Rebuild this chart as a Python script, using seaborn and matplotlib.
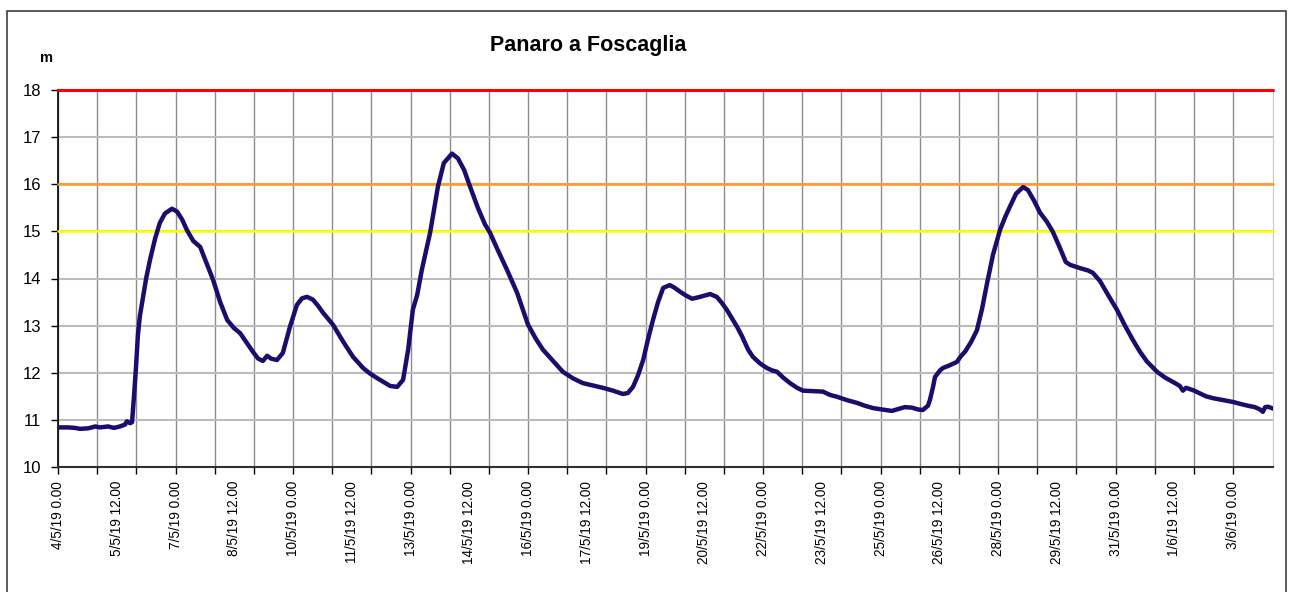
import pandas as pd
import seaborn as sns
import matplotlib.pyplot as plt
import matplotlib.patches as mpatches

# Water level readings (days since 4/5/19 0:00, level in m)
day_offset = [
    0.00, 0.26, 0.43, 0.56, 0.77, 0.95, 1.07, 1.28, 1.43, 1.58, 1.71, 1.76, 1.84, 1.89,
    1.94, 1.99, 2.04, 2.09, 2.17, 2.25, 2.35, 2.48, 2.60, 2.73, 2.91, 3.04, 3.17, 3.29,
    3.45, 3.63, 3.78, 3.96, 4.14, 4.32, 4.49, 4.65, 4.83, 4.98, 5.11, 5.23, 5.34, 5.44,
    5.59, 5.74, 5.92, 6.10, 6.23, 6.36, 6.51, 6.64, 6.77, 7.02, 7.28, 7.53, 7.79, 7.97,
    8.14, 8.32, 8.48, 8.66, 8.81, 8.94, 9.06, 9.17, 9.29, 9.50, 9.70, 9.85, 10.06, 10.21,
    10.37, 10.52, 10.72, 10.90, 11.03, 11.23, 11.46, 11.72, 12.00, 12.20, 12.38, 12.64,
    12.89, 13.15, 13.40, 13.66, 13.91, 14.17, 14.42, 14.55, 14.68, 14.81, 14.94, 15.06,
    15.19, 15.32, 15.45, 15.62, 15.75, 15.88, 16.03, 16.19, 16.39, 16.65, 16.82, 16.95,
    17.08, 17.21, 17.34, 17.46, 17.62, 17.74, 17.92, 18.10, 18.23, 18.36, 18.51, 18.69,
    18.87, 19.02, 19.28, 19.53, 19.71, 19.89, 20.14, 20.40, 20.60, 20.81, 21.04, 21.29,
    21.45, 21.62, 21.80, 21.96, 22.08, 22.21, 22.26, 22.34, 22.39, 22.52, 22.59, 22.77,
    22.95, 23.05, 23.16, 23.31, 23.46, 23.59, 23.72, 23.87, 24.05, 24.18, 24.30, 24.46,
    24.64, 24.76, 24.92, 25.07, 25.25, 25.40, 25.58, 25.73, 25.84, 26.09, 26.30, 26.42,
    26.60, 26.81, 27.04, 27.24, 27.44, 27.62, 27.80, 28.06, 28.26, 28.52, 28.64, 28.72,
    28.80, 28.98, 29.16, 29.31, 29.49, 29.62, 29.74, 29.87, 30.00, 30.18, 30.38, 30.56,
    30.69, 30.76, 30.82, 30.89, 31.02,
]
level_m = [
    10.84, 10.84, 10.83, 10.81, 10.82, 10.86, 10.84, 10.86, 10.83, 10.86, 10.90, 10.97, 10.93, 10.95,
    11.50, 12.10, 12.80, 13.20, 13.60, 14.00, 14.40, 14.85, 15.18, 15.38, 15.48, 15.42, 15.25, 15.03,
    14.80, 14.67, 14.35, 13.97, 13.50, 13.12, 12.95, 12.84, 12.62, 12.44, 12.30, 12.25, 12.36, 12.30,
    12.27, 12.42, 12.97, 13.44, 13.58, 13.61, 13.55, 13.42, 13.27, 13.02, 12.66, 12.34, 12.10, 11.98,
    11.89, 11.80, 11.72, 11.70, 11.85, 12.49, 13.34, 13.65, 14.19, 14.97, 15.95, 16.45, 16.65, 16.55,
    16.30, 15.95, 15.50, 15.15, 14.97, 14.60, 14.19, 13.70, 13.02, 12.72, 12.49, 12.25,
    12.02, 11.88, 11.78, 11.73, 11.68, 11.62, 11.55, 11.57, 11.70, 11.95, 12.27, 12.70,
    13.12, 13.50, 13.80, 13.86, 13.80, 13.72, 13.64, 13.57, 13.61, 13.67, 13.61, 13.48,
    13.33, 13.15, 12.97, 12.78, 12.49, 12.34, 12.20, 12.10, 12.05, 12.02, 11.90, 11.78,
    11.68, 11.62, 11.61, 11.60, 11.53, 11.49, 11.42, 11.36, 11.30, 11.25, 11.22, 11.19,
    11.23, 11.27, 11.26, 11.22, 11.21, 11.30, 11.42, 11.70, 11.91, 12.05, 12.10, 12.16,
    12.23, 12.35, 12.45, 12.65, 12.90, 13.35, 13.90, 14.50, 15.03, 15.30, 15.52, 15.80,
    15.94, 15.88, 15.65, 15.40, 15.20, 14.99, 14.65, 14.35, 14.29, 14.22, 14.17, 14.12,
    13.95, 13.65, 13.33, 13.00, 12.70, 12.45, 12.24, 12.02, 11.90, 11.78, 11.72, 11.62,
    11.68, 11.63, 11.56, 11.50, 11.46, 11.44, 11.42, 11.40, 11.38, 11.34, 11.30, 11.27,
    11.22, 11.17, 11.27, 11.28, 11.24,
]

# Alert thresholds (m)
threshold_levels = [15, 16, 18]
threshold_colors = ["#ffff00", "#ff9933", "#ff0000"]

tick_labels = [
    "4/5/19 0.00", "5/5/19 12.00", "7/5/19 0.00", "8/5/19 12.00", "10/5/19 0.00",
    "11/5/19 12.00", "13/5/19 0.00", "14/5/19 12.00", "16/5/19 0.00", "17/5/19 12.00",
    "19/5/19 0.00", "20/5/19 12.00", "22/5/19 0.00", "23/5/19 12.00", "25/5/19 0.00",
    "26/5/19 12.00", "28/5/19 0.00", "29/5/19 12.00", "31/5/19 0.00", "1/6/19 12.00",
    "3/6/19 0.00",
]

start = pd.Timestamp("2019-05-04 00:00")
df = pd.DataFrame({
    "time": start + pd.to_timedelta(day_offset, unit="D"),
    "level": level_m,
})

sns.set_style("white")
plt.rcParams["font.family"] = ["Liberation Sans", "DejaVu Sans"]
plt.rcParams["text.color"] = "black"
plt.rcParams["xtick.color"] = "black"
plt.rcParams["ytick.color"] = "black"

fig = plt.figure(figsize=(12.92, 5.92), dpi=100)
ax = fig.add_axes([58 / 1292, 1 - 467 / 592, (1273 - 58) / 1292, (467 - 90) / 592])

# Outer chart frame
fig.patches.append(mpatches.Rectangle((7 / 1292, -0.01), (1286 - 7) / 1292, 1 - 11 / 592 + 0.01,
                                      transform=fig.transFigure, fill=False,
                                      edgecolor="#404040", linewidth=1.2))

for lvl, col in zip(threshold_levels, threshold_colors):
    ax.axhline(lvl, color=col, linewidth=2.2 if lvl == 18 else 1.9, zorder=3, clip_on=False)

sns.lineplot(data=df, x="time", y="level", ax=ax, color="#1c0c6c", linewidth=3.2, zorder=4)

ax.set_ylim(10, 18)
ax.set_yticks(range(10, 19))
ax.set_xlim(start, start + pd.Timedelta(days=31.02))

label_pos = pd.date_range(start, periods=len(tick_labels), freq="36h")
ax.set_xticks(label_pos)
ax.set_xticklabels(tick_labels, rotation=90, fontsize=9.8)
ax.set_xticks(pd.date_range(start, periods=31, freq="24h"), minor=True)
ax.xaxis.remove_overlapping_locs = False

ax.tick_params(axis="x", which="major", length=0, pad=10, labelcolor="black")
ax.tick_params(axis="x", which="minor", length=5, width=1, color="black", direction="out", bottom=True)
ax.tick_params(axis="y", length=5, width=1, color="black", direction="out", left=True,
               labelsize=12, pad=7, labelcolor="black")

ax.grid(False)
ax.grid(True, which="minor", axis="x", color="#8c8c8c", linewidth=1)
ax.grid(True, which="major", axis="y", color="#bcbcbc", linewidth=1.5)
ax.set_axisbelow(True)

ax.spines["left"].set_color("black")
ax.spines["left"].set_linewidth(1.2)
ax.spines["bottom"].set_color("#303030")
ax.spines["bottom"].set_linewidth(1.5)
ax.spines["top"].set_color("#c8c8c8")
ax.spines["right"].set_color("#c8c8c8")

ax.set_xlabel("")
ax.set_ylabel("")

fig.text(588 / 1292, 1 - 46 / 592, "Panaro a Foscaglia", ha="center", va="center",
         fontsize=15.5, fontweight="bold", color="black")
fig.text(47 / 1292, 1 - 58 / 592, "m", ha="center", va="center", fontsize=10.5,
         fontweight="bold", color="black")

fig.savefig("out.png", dpi=100)
